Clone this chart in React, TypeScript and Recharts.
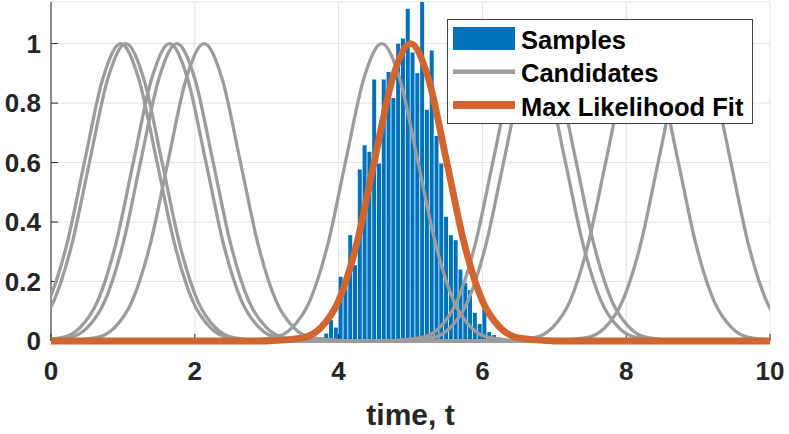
import React from 'react';
import { ComposedChart, Bar, Line, XAxis, YAxis, CartesianGrid, Legend, Label } from 'recharts';

// ---------- data ----------
const xTicks = [0, 2, 4, 6, 8, 10];
const yTicks = [0, 0.2, 0.4, 0.6, 0.8, 1];

// histogram bin centres (time) and bar heights
const binCenters = [
  3.633, 3.7, 3.767, 3.833, 3.9, 3.967, 4.033, 4.1, 4.167, 4.233, 4.3, 4.367, 4.433, 4.5,
  4.567, 4.633, 4.7, 4.767, 4.833, 4.9, 4.967, 5.033, 5.1, 5.167, 5.233, 5.3, 5.367, 5.433,
  5.5, 5.567, 5.633, 5.7, 5.767, 5.833, 5.9, 5.967, 6.033, 6.1, 6.167, 6.233, 6.3, 6.367,
];
const binHeights = [
  0.004, 0.008, 0.012, 0.025, 0.07, 0.045, 0.216, 0.177, 0.356, 0.255, 0.577, 0.658, 0.636, 0.879,
  0.597, 0.879, 0.905, 0.817, 1.0, 1.017, 1.117, 0.97, 0.9, 1.2, 0.778, 0.977, 0.689, 0.597,
  0.418, 0.356, 0.339, 0.24, 0.195, 0.171, 0.095, 0.057, 0.118, 0.03, 0.02, 0.012, 0.008, 0.004,
];

// candidate curves, as [time, value] points
const candA = [[-1.03, 0], [-0.53, 0.011], [-0.28, 0.044], [-0.03, 0.135], [0.22, 0.325], [0.47, 0.607], [0.72, 0.882], [0.97, 1], [1.22, 0.882], [1.47, 0.607], [1.72, 0.325], [1.97, 0.135], [2.22, 0.044], [2.47, 0.011], [2.97, 0], [10, 0]];
const candB = [[-0.96, 0], [-0.46, 0.011], [-0.21, 0.044], [0.04, 0.135], [0.29, 0.325], [0.54, 0.607], [0.79, 0.882], [1.04, 1], [1.29, 0.882], [1.54, 0.607], [1.79, 0.325], [2.04, 0.135], [2.29, 0.044], [2.54, 0.011], [3.04, 0], [10, 0]];
const candC = [[-0.35, 0], [0.15, 0.011], [0.4, 0.044], [0.65, 0.135], [0.9, 0.325], [1.15, 0.607], [1.4, 0.882], [1.65, 1], [1.9, 0.882], [2.15, 0.607], [2.4, 0.325], [2.65, 0.135], [2.9, 0.044], [3.15, 0.011], [3.65, 0], [10, 0]];
const candD = [[-0.25, 0], [0.25, 0.011], [0.5, 0.044], [0.75, 0.135], [1, 0.325], [1.25, 0.607], [1.5, 0.882], [1.75, 1], [2, 0.882], [2.25, 0.607], [2.5, 0.325], [2.75, 0.135], [3, 0.044], [3.25, 0.011], [3.75, 0], [10, 0]];
const candE = [[0, 0], [0.13, 0], [0.63, 0.011], [0.88, 0.044], [1.13, 0.135], [1.38, 0.325], [1.63, 0.607], [1.88, 0.882], [2.13, 1], [2.38, 0.882], [2.63, 0.607], [2.88, 0.325], [3.13, 0.135], [3.38, 0.044], [3.63, 0.011], [4.13, 0], [10, 0]];
const candF = [[0, 0], [2.6, 0], [3.1, 0.011], [3.35, 0.044], [3.6, 0.135], [3.85, 0.325], [4.1, 0.607], [4.35, 0.882], [4.6, 1], [4.85, 0.882], [5.1, 0.607], [5.35, 0.325], [5.6, 0.135], [5.85, 0.044], [6.1, 0.011], [6.6, 0], [10, 0]];
const candG = [[0, 0], [4.65, 0], [5.15, 0.011], [5.4, 0.044], [5.65, 0.135], [5.9, 0.325], [6.15, 0.607], [6.4, 0.882], [6.65, 1], [6.9, 0.882], [7.15, 0.607], [7.4, 0.325], [7.65, 0.135], [7.9, 0.044], [8.15, 0.011], [8.65, 0], [10, 0]];
const candH = [[0, 0], [4.8, 0], [5.3, 0.011], [5.55, 0.044], [5.8, 0.135], [6.05, 0.325], [6.3, 0.607], [6.55, 0.882], [6.8, 1], [7.05, 0.882], [7.3, 0.607], [7.55, 0.325], [7.8, 0.135], [8.05, 0.044], [8.3, 0.011], [8.8, 0], [10, 0]];
const candI = [[0, 0], [6.22, 0], [6.72, 0.011], [6.97, 0.044], [7.22, 0.135], [7.47, 0.325], [7.72, 0.607], [7.97, 0.882], [8.22, 1], [8.47, 0.882], [8.72, 0.607], [8.97, 0.325], [9.22, 0.135], [9.47, 0.044], [9.72, 0.011], [10.22, 0]];
const candJ = [[0, 0], [6.95, 0], [7.45, 0.011], [7.7, 0.044], [7.95, 0.135], [8.2, 0.325], [8.45, 0.607], [8.7, 0.882], [8.95, 1], [9.2, 0.882], [9.45, 0.607], [9.7, 0.325], [9.95, 0.135], [10.2, 0.044], [10.45, 0.011], [10.95, 0]];

// maximum likelihood fit
const fitCurve = [[0, 0], [3, 0], [3.5, 0.011], [3.75, 0.044], [4, 0.135], [4.25, 0.325], [4.5, 0.607], [4.75, 0.882], [5, 1], [5.25, 0.882], [5.5, 0.607], [5.75, 0.325], [6, 0.135], [6.25, 0.044], [6.5, 0.011], [7, 0], [10, 0]];

// ---------- tables built from the arrays ----------
const histData = binCenters.map((t, i) => ({ t, count: binHeights[i] }));
const toPts = (arr: number[][]) => arr.map(([t, v]) => ({ t, v }));
const candidates = [candA, candB, candC, candD, candE, candF, candG, candH, candI, candJ].map(toPts);
const fitData = toPts(fitCurve);

// ---------- styles ----------
const FONT = "'Liberation Sans', Arial, Helvetica, sans-serif";
const AXIS = '#262626';
const BLUE = '#0072BD';
const GRAY = '#9c9c9c';
const ORANGE = '#D2652F';
const tickStyle = { fill: AXIS, fontSize: 26, fontWeight: 'bold', fontFamily: FONT };
const W = 789;
const H = 434;

function LegendBox() {
  const txt = { fontSize: 25.5, fontWeight: 'bold' as const, fontFamily: FONT, fill: '#000' };
  return (
    <div style={{ width: 306, height: 105, boxSizing: 'border-box', border: '1px solid #404040', background: '#fff' }}>
      <svg width={304} height={103} style={{ display: 'block' }}>
        <rect x={5} y={7} width={62} height={23} fill={BLUE} />
        <text x={73} y={28.5} style={txt}>Samples</text>
        <line x1={5} x2={67} y1={51.7} y2={51.7} stroke={GRAY} strokeWidth={4.5} />
        <text x={73} y={62} style={txt}>Candidates</text>
        <line x1={5} x2={67} y1={85} y2={85} stroke={ORANGE} strokeWidth={8} />
        <text x={73} y={95.5} style={txt}>Max Likelihood Fit</text>
      </svg>
    </div>
  );
}

export default function App() {
  return (
    <div style={{ position: 'relative', width: W, height: H, background: '#fff' }}>
      <style>{'body{margin:0;}'}</style>
      {/* bottom layer: grid, axes, histogram */}
      <div style={{ position: 'absolute', left: 0, top: 0 }}>
        <ComposedChart width={W} height={H} data={histData} margin={{ top: 2, right: 19, bottom: 0, left: 0 }}>
          <CartesianGrid stroke="#e3e3e3" strokeWidth={1} />
          <XAxis
            dataKey="t"
            type="number"
            domain={[0, 10]}
            ticks={xTicks}
            interval={0}
            height={93}
            tickSize={-7}
            tickMargin={28}
            tick={tickStyle}
            axisLine={{ stroke: AXIS }}
            tickLine={{ stroke: AXIS }}
            allowDataOverflow
          >
            <Label
              value="time, t"
              position="insideBottom"
              offset={9}
              style={{ fill: AXIS, fontSize: 30, fontWeight: 'bold', fontFamily: FONT }}
            />
          </XAxis>
          <XAxis
            xAxisId="top"
            orientation="top"
            type="number"
            domain={[0, 10]}
            ticks={xTicks}
            interval={0}
            height={0}
            tickSize={-7}
            tick={false}
            axisLine={{ stroke: AXIS }}
            tickLine={{ stroke: AXIS }}
            allowDataOverflow
          />
          <YAxis
            type="number"
            domain={[0, 1.14]}
            ticks={yTicks}
            interval={0}
            width={51}
            tickSize={-7}
            tickMargin={17}
            tick={tickStyle}
            axisLine={{ stroke: AXIS }}
            tickLine={{ stroke: AXIS }}
            allowDataOverflow
          />
          <YAxis
            yAxisId="right"
            orientation="right"
            type="number"
            domain={[0, 1.14]}
            ticks={yTicks}
            interval={0}
            width={0}
            tickSize={-7}
            tick={false}
            axisLine={{ stroke: AXIS }}
            tickLine={{ stroke: AXIS }}
            allowDataOverflow
          />
          <Bar dataKey="count" fill={BLUE} barSize={4} isAnimationActive={false} />
        </ComposedChart>
      </div>
      {/* top layer: curves and legend */}
      <div style={{ position: 'absolute', left: 0, top: 0 }}>
        <ComposedChart width={W} height={H} margin={{ top: 2, right: 19, bottom: 93, left: 51 }}>
          <XAxis type="number" dataKey="t" domain={[0, 10]} allowDataOverflow hide />
          <YAxis type="number" domain={[0, 1.14]} hide />
          {candidates.map((c, i) => (
            <Line
              key={'c' + i}
              data={c}
              dataKey="v"
              type="monotone"
              stroke={GRAY}
              strokeWidth={3.3}
              dot={false}
              activeDot={false}
              legendType="none"
              isAnimationActive={false}
            />
          ))}
          <Line
            data={fitData}
            dataKey="v"
            type="monotone"
            stroke={ORANGE}
            strokeWidth={6.8}
            dot={false}
            activeDot={false}
            isAnimationActive={false}
          />
          <Legend
            layout="vertical"
            align="center"
            verticalAlign="middle"
            content={() => <LegendBox />}
            wrapperStyle={{ left: 447, top: 19, width: 306, height: 105 }}
          />
        </ComposedChart>
      </div>
    </div>
  );
}
